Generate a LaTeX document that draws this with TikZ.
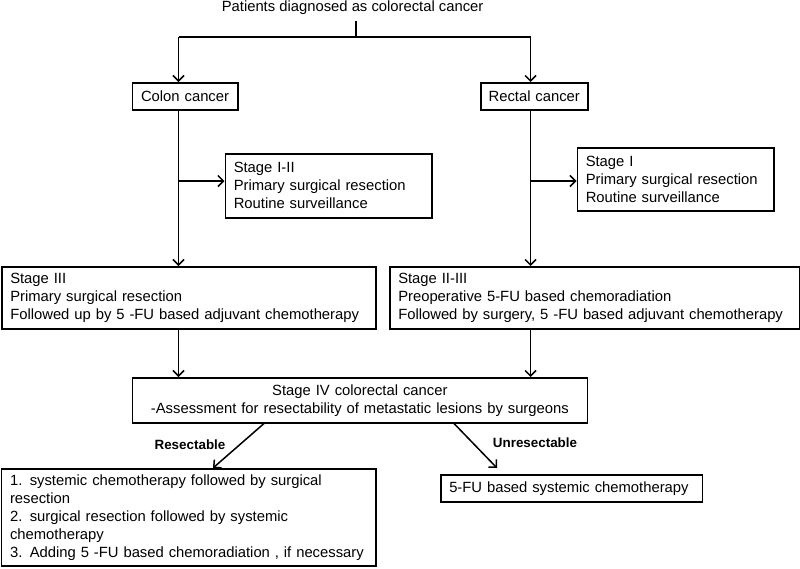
\documentclass[tikz,border=0pt]{standalone}
\usepackage{fontspec}
\setmainfont{Liberation Sans}
\usetikzlibrary{arrows.meta}
\begin{document}
\begin{tikzpicture}[x=1pt,y=-1pt,
  every node/.style={font=\fontsize{14.8}{18}\selectfont},
  box/.style={draw, line width=1.5pt, inner xsep=8.5pt, inner ysep=0pt, align=left, anchor=north west},
  cbox/.style={draw, line width=1.5pt, inner xsep=4pt, inner ysep=0pt, align=center, anchor=north west},
  lbl/.style={font=\fontsize{13.4}{16}\selectfont\bfseries},
  conn/.style={line width=1.5pt},
  arr/.style={line width=1.5pt, -{Straight Barb[length=5.5pt,width=11pt,line width=1.5pt]}}]
\useasboundingbox (0,0) rectangle (800,568);

\node[inner sep=0pt] (title) at (352.6,8) {Patients diagnosed as colorectal cancer};
\coordinate (top) at (356,37);
\coordinate (cL) at (178.5,37);
\coordinate (cR) at (530.6,37);

\node[cbox, text width=97.4pt, minimum height=27pt] (colon) at (131.6,82) {Colon cancer};
\node[cbox, text width=99pt, minimum height=27pt] (rectal) at (480,82) {Rectal cancer};

\node[box, text width=189.5pt, minimum height=64pt] (s12) at (224.5,153)
  {Stage I-II\\Primary surgical resection\\Routine surveillance};
\node[box, text width=179.5pt, minimum height=63pt] (s1) at (576.5,147)
  {Stage I\\Primary surgical resection\\Routine surveillance};

\node[box, text width=357pt, minimum height=62pt] (s3) at (1,266)
  {Stage III\\Primary surgical resection\\Followed up by 5 -FU based adjuvant chemotherapy};
\node[box, text width=392.5pt, minimum height=62pt] (s23) at (389,266)
  {Stage II-III\\Preoperative 5-FU based chemoradiation\\Followed by surgery, 5 -FU based adjuvant chemotherapy};

\node[cbox, text width=447pt, minimum height=45pt] (s4) at (131.6,377)
  {Stage IV colorectal cancer\\-Assessment for resectability of metastatic lesions by surgeons};

\node[box, text width=357.5pt, minimum height=97pt] (res) at (0.8,468)
  {1. systemic chemotherapy followed by surgical\\resection\\2. surgical resection followed by systemic\\chemotherapy\\3. Adding 5 -FU based chemoradiation , if necessary};
\node[box, text width=244.5pt, minimum height=27pt] (unres) at (440,474)
  {5-FU based systemic chemotherapy};

% connectors
\draw[conn] (title.south -| top) ++(0,6) -- (top);
\draw[conn] (cL) -- (cR);
\draw[arr] (cL) -- (colon.north -| cL);
\draw[arr] (cR) -- (rectal.north -| cR);

\draw[arr] (colon.south -| cL) -- (s3.north -| cL);
\draw[arr] (rectal.south -| cR) -- (s23.north -| cR);

\coordinate (b1) at (178.5,181);
\coordinate (b2) at (530.6,181);
\draw[arr] (b1) -- (s12.west |- b1);
\draw[arr] (b2) -- (s1.west |- b2);

\draw[arr] (s3.south -| cL) -- (s4.north -| cL);
\draw[arr] (s23.south -| cR) -- (s4.north -| cR);

\coordinate (ra) at (264,0);
\coordinate (rb) at (213,0);
\draw[arr] (s4.south -| ra) -- (res.north -| rb);
\coordinate (ua) at (454,0);
\coordinate (ue) at (497,468);
\draw[arr] (s4.south -| ua) -- (ue);

\node[lbl] (lres) at (190,445) {Resectable};
\node[lbl] (lunres) at (535,443) {Unresectable};
\end{tikzpicture}
\end{document}
